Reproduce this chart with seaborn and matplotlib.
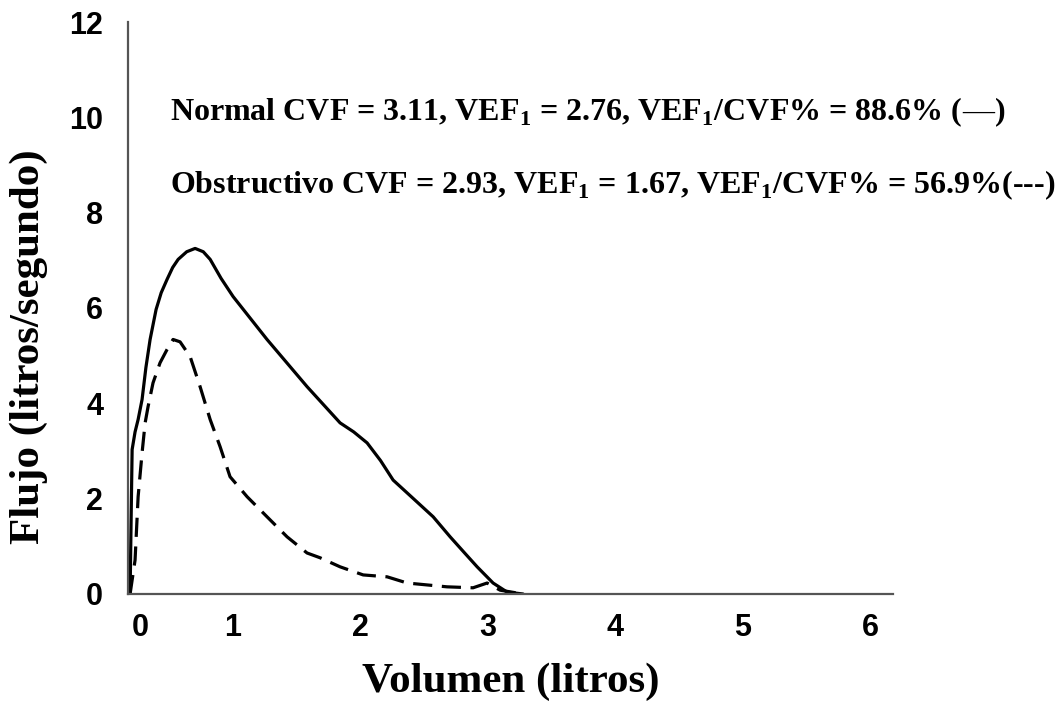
import numpy as np
import pandas as pd
import matplotlib
matplotlib.use('Agg')
import matplotlib.pyplot as plt
import seaborn as sns

# Curva flujo-volumen, valores (litros, litros/segundo)
vol_normal = [0.196, 0.204, 0.212, 0.235, 0.259, 0.29, 0.32, 0.353, 0.40, 0.44, 0.486,
              0.53, 0.573, 0.64, 0.706, 0.77, 0.824, 0.91, 1.004, 1.27, 1.584, 1.843,
              1.95, 2.055, 2.16, 2.259, 2.41, 2.573, 2.706, 2.82, 2.918, 3.043, 3.153,
              3.278]
flujo_normal = [0.0, 1.55, 3.03, 3.40, 3.66, 4.08, 4.75, 5.34, 5.97, 6.32, 6.60,
                6.85, 7.02, 7.18, 7.25, 7.18, 7.02, 6.62, 6.24, 5.34, 4.35, 3.59,
                3.40, 3.17, 2.80, 2.39, 2.02, 1.62, 1.20, 0.86, 0.57, 0.23, 0.04,
                0.0]

vol_obstr = [0.196, 0.235, 0.259, 0.29, 0.314, 0.337, 0.376, 0.431, 0.486, 0.533,
             0.588, 0.667, 0.745, 0.824, 0.902, 0.98, 1.114, 1.27, 1.427, 1.584,
             1.686, 1.843, 2.024, 2.212, 2.369, 2.682, 2.886, 2.996, 3.098, 3.278]
flujo_obstr = [0.0, 0.71, 2.04, 2.96, 3.59, 3.93, 4.43, 4.85, 5.13, 5.34,
               5.29, 4.98, 4.35, 3.66, 3.09, 2.46, 2.04, 1.62, 1.20, 0.86,
               0.76, 0.57, 0.40, 0.36, 0.23, 0.15, 0.13, 0.23, 0.08, 0.0]

x_ticks = [0.275, 1, 2, 3, 4, 5, 6]
x_labels = ['0', '1', '2', '3', '4', '5', '6']
y_ticks = [0, 2, 4, 6, 8, 10, 12]

texto_normal = r'Normal CVF = 3.11, VEF$_{\mathbf{1}}$ = 2.76, VEF$_{\mathbf{1}}$/CVF% = 88.6% ('
texto_obstr = r'Obstructivo CVF = 2.93, VEF$_{\mathbf{1}}$ = 1.67, VEF$_{\mathbf{1}}$/CVF% = 56.9%(---)'

sns.set_style('white')
plt.rcParams['mathtext.fontset'] = 'custom'
plt.rcParams['mathtext.bf'] = 'Liberation Serif:bold'
plt.rcParams['mathtext.rm'] = 'Liberation Serif:bold'
plt.rcParams['text.color'] = 'black'
plt.rcParams['xtick.color'] = 'black'
plt.rcParams['ytick.color'] = 'black'

fig = plt.figure(figsize=(10.6, 7.1), dpi=100)
ax = fig.add_axes([0.1208, 0.1634, 0.7217, 0.8056])

df_n = pd.DataFrame({'vol': vol_normal, 'flujo': flujo_normal})
df_o = pd.DataFrame({'vol': vol_obstr, 'flujo': flujo_obstr})
sns.lineplot(data=df_n, x='vol', y='flujo', color='black', lw=2.3, sort=False, ax=ax)
sns.lineplot(data=df_o, x='vol', y='flujo', color='black', lw=2.3, sort=False, ax=ax,
             linestyle=(0, (6, 3)))

ax.set_xlim(0.18, 6.18)
ax.set_ylim(0, 12)
ax.set_xticks(x_ticks, x_labels, fontfamily='Liberation Sans', fontweight='bold',
              fontsize=22)
ax.set_yticks(y_ticks, [str(v) for v in y_ticks], fontfamily='Liberation Sans',
              fontweight='bold', fontsize=22)
ax.tick_params(axis='x', length=0, pad=14)
ax.tick_params(axis='y', length=0, pad=18)

for s in ['top', 'right']:
    ax.spines[s].set_visible(False)
for s in ['left', 'bottom']:
    ax.spines[s].set_color('#555555')
    ax.spines[s].set_linewidth(1.6)

ax.set_xlabel('Volumen (litros)', fontfamily='Liberation Serif', fontweight='bold',
              fontsize=31, labelpad=14, color='black')
ax.set_ylabel('Flujo (litros/segundo)', fontfamily='Liberation Serif', fontweight='bold',
              fontsize=31, color='black')
ax.yaxis.set_label_coords(-0.105, 0.432)

fs = 23
t1 = fig.text(170 / 1060, 1 - 112 / 710, texto_normal, fontfamily='Liberation Serif',
              fontweight='bold', fontsize=fs, va='center', ha='left', color='black')
fig.canvas.draw()
bb = t1.get_window_extent()
t2 = fig.text(bb.x1 / 1060, 1 - 112 / 710, '\u2014', fontfamily='Liberation Serif',
              fontweight='normal', fontsize=fs, va='center', ha='left', color='black')
fig.canvas.draw()
bb2 = t2.get_window_extent()
fig.text(bb2.x1 / 1060, 1 - 112 / 710, ')', fontfamily='Liberation Serif',
         fontweight='bold', fontsize=fs, va='center', ha='left', color='black')
fig.text(170 / 1060, 1 - 185 / 710, texto_obstr, fontfamily='Liberation Serif',
         fontweight='bold', fontsize=fs, va='center', ha='left', color='black')

fig.savefig('out.png', dpi=100)
